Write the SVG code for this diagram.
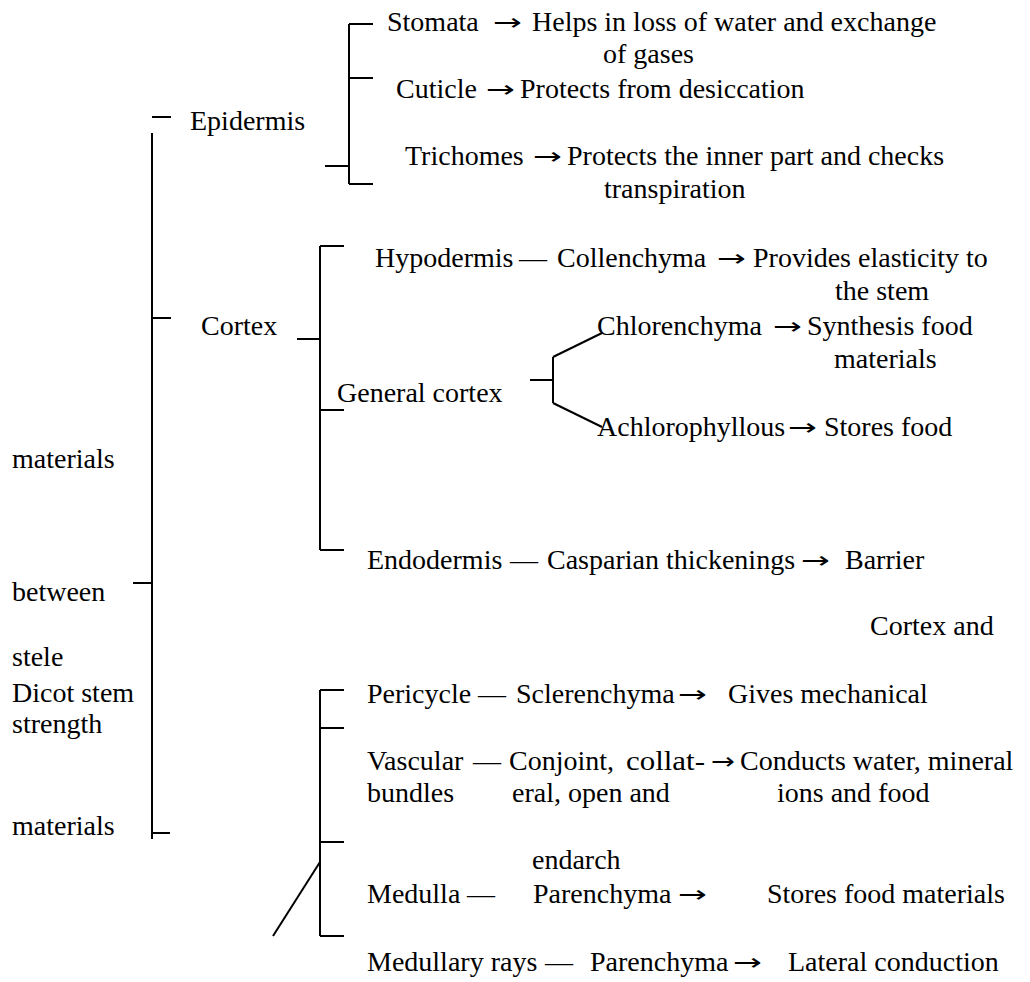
<svg xmlns="http://www.w3.org/2000/svg" width="1030" height="982" viewBox="0 0 1030 982">
<style>
text{font-family:"Liberation Serif","Times New Roman",serif;font-size:28px;fill:#000}
text.a{font-family:"DejaVu Sans",sans-serif;font-size:23px}
.c line{stroke:#000;stroke-width:2;fill:none}
</style>
<rect width="1030" height="982" fill="#fff"/>
<g id="connectors" class="c">
<line x1="152" y1="117" x2="171" y2="117"/>
<line x1="152" y1="133" x2="152" y2="839"/>
<line x1="152" y1="318" x2="171" y2="318"/>
<line x1="133" y1="583" x2="152" y2="583"/>
<line x1="152" y1="833" x2="170" y2="833"/>
<line x1="349" y1="24" x2="349" y2="184"/>
<line x1="349" y1="24" x2="373" y2="24"/>
<line x1="349" y1="78" x2="373" y2="78"/>
<line x1="349" y1="184" x2="373" y2="184"/>
<line x1="325" y1="166" x2="349" y2="166"/>
<line x1="320" y1="246" x2="320" y2="550"/>
<line x1="320" y1="246" x2="344" y2="246"/>
<line x1="297" y1="339" x2="320" y2="339"/>
<line x1="320" y1="410" x2="344" y2="410"/>
<line x1="320" y1="550" x2="344" y2="550"/>
<line x1="530" y1="380" x2="553" y2="380"/>
<line x1="553" y1="357" x2="553" y2="403"/>
<line x1="553" y1="357" x2="602" y2="333"/>
<line x1="553" y1="403" x2="602" y2="427"/>
<line x1="320" y1="690" x2="320" y2="936"/>
<line x1="320" y1="690" x2="344" y2="690"/>
<line x1="320" y1="728" x2="344" y2="728"/>
<line x1="320" y1="842" x2="344" y2="842"/>
<line x1="320" y1="936" x2="344" y2="936"/>
<line x1="320" y1="862" x2="273" y2="936"/>
</g>
<g id="epidermis"><text x="190" y="130">Epidermis</text></g>
<g id="stomata"><text x="387" y="31">Stomata</text><text class="a" x="493" y="30" textLength="29" lengthAdjust="spacingAndGlyphs">→</text><text x="532" y="31">Helps in loss of water and exchange</text><text x="603" y="63">of gases</text></g>
<g id="cuticle"><text x="396" y="98">Cuticle</text><text class="a" x="486" y="97" textLength="29" lengthAdjust="spacingAndGlyphs">→</text><text x="520" y="98">Protects from desiccation</text></g>
<g id="trichomes"><text x="405" y="165">Trichomes</text><text class="a" x="533" y="164" textLength="29" lengthAdjust="spacingAndGlyphs">→</text><text x="567" y="165">Protects the inner part and checks</text><text x="604" y="198">transpiration</text></g>
<g id="cortex"><text x="201" y="335">Cortex</text></g>
<g id="hypodermis"><text x="375" y="267">Hypodermis</text><text x="519" y="267">—</text><text x="557" y="267">Collenchyma</text><text class="a" x="717" y="266" textLength="29" lengthAdjust="spacingAndGlyphs">→</text><text x="753" y="267">Provides elasticity to</text><text x="835" y="300">the stem</text></g>
<g id="general-cortex"><text x="337" y="402">General cortex</text></g>
<g id="chlorenchyma"><text x="597" y="335">Chlorenchyma</text><text class="a" x="773" y="334" textLength="29" lengthAdjust="spacingAndGlyphs">→</text><text x="807" y="335">Synthesis food</text><text x="834" y="368">materials</text></g>
<g id="achlorophyllous"><text x="597" y="436">Achlorophyllous</text><text class="a" x="788" y="435" textLength="29" lengthAdjust="spacingAndGlyphs">→</text><text x="824" y="436">Stores food</text></g>
<g id="endodermis"><text x="367" y="569">Endodermis</text><text x="510" y="569">—</text><text x="547" y="569">Casparian thickenings</text><text class="a" x="801" y="568" textLength="29" lengthAdjust="spacingAndGlyphs">→</text><text x="845" y="569">Barrier</text><text x="870" y="635">Cortex and</text></g>
<g id="left-labels"><text x="12" y="468">materials</text><text x="12" y="601">between</text><text x="12" y="666">stele</text><text x="12" y="702">Dicot stem</text><text x="12" y="733">strength</text><text x="12" y="835">materials</text></g>
<g id="pericycle"><text x="367" y="703">Pericycle</text><text x="478" y="703">—</text><text x="516" y="703">Sclerenchyma</text><text class="a" x="678" y="702" textLength="29" lengthAdjust="spacingAndGlyphs">→</text><text x="728" y="703">Gives mechanical</text></g>
<g id="vascular"><text x="367" y="770">Vascular</text><text x="473" y="770">—</text><text x="509" y="770">Conjoint,</text><text x="626" y="770" textLength="79" lengthAdjust="spacingAndGlyphs">collat-</text><text class="a" x="711" y="769" textLength="24" lengthAdjust="spacingAndGlyphs">→</text><text x="740" y="770">Conducts water, mineral</text><text x="367" y="802">bundles</text><text x="512" y="802">eral, open and</text><text x="777" y="802">ions and food</text><text x="532" y="869">endarch</text></g>
<g id="medulla"><text x="367" y="903">Medulla</text><text x="467" y="903">—</text><text x="533" y="903">Parenchyma</text><text class="a" x="678" y="902" textLength="29" lengthAdjust="spacingAndGlyphs">→</text><text x="767" y="903">Stores food materials</text></g>
<g id="medullary-rays"><text x="367" y="971">Medullary rays</text><text x="545" y="971">—</text><text x="590" y="971">Parenchyma</text><text class="a" x="733" y="970" textLength="29" lengthAdjust="spacingAndGlyphs">→</text><text x="788" y="971">Lateral conduction</text></g>
</svg>
